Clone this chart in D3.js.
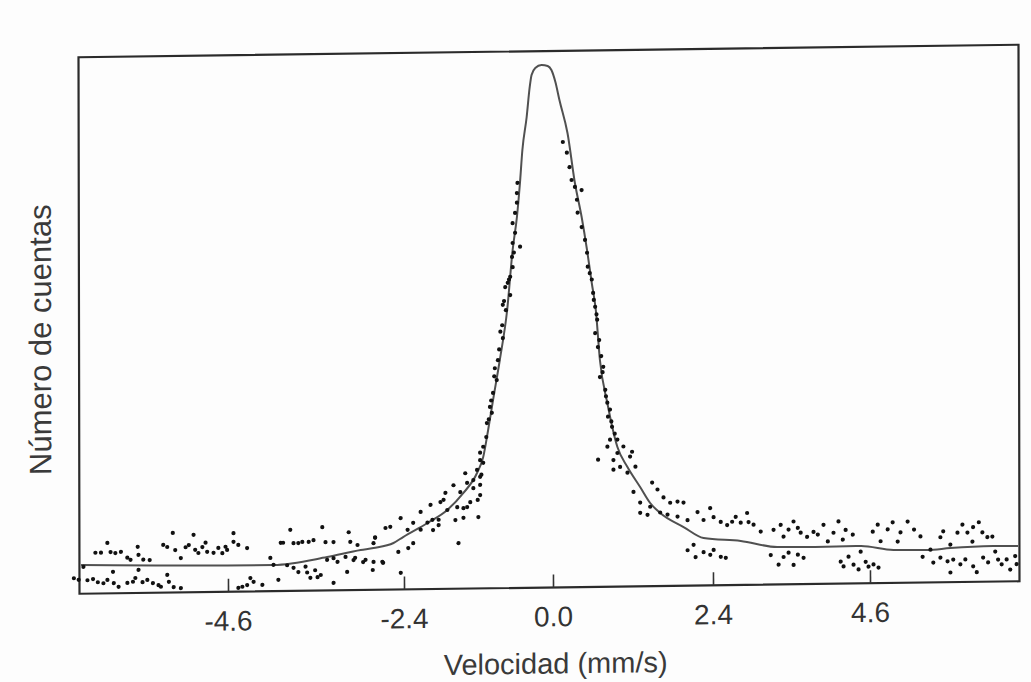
<!DOCTYPE html>
<html>
<head>
<meta charset="utf-8">
<script src="https://cdn.jsdelivr.net/npm/d3@7"></script>
<style>
  body { margin: 0; background: #fdfdfd; }
  svg { display: block; }
  .frame { fill: none; stroke: #2b2b2b; stroke-width: 2.2; }
  .fit { fill: none; stroke: #505050; stroke-width: 2; }
  .dot { fill: #111; }
  .axis text { font-family: "Liberation Sans", Arial, sans-serif; font-size: 28px; fill: #333; }
  .axis line { stroke: #333; stroke-width: 1.6; }
  .label { font-family: "Liberation Sans", Arial, sans-serif; fill: #3a3a3a; }
</style>
</head>
<body>
<svg width="1031" height="682"></svg>
<script>
// tick labels of the velocity axis (mm/s)
var xTicks = [-4.6, -2.4, 0.0, 2.4, 4.6];
var xMin = -6.46, xMax = 6.70;

// fitted curve (velocity, relative counts)
var fitVel = [-6.44, -4.03, -3.36, -2.94, -2.78, -2.53, -2.41, -2.02, -1.70, -1.44, -1.22, -1.12,
  -1.04, -0.96, -0.85, -0.73, -0.64, -0.57, -0.52, -0.48, -0.41, -0.36, -0.33, -0.27, -0.17, -0.07,
  -0.01, 0.05, 0.11, 0.23, 0.34, 0.44, 0.52, 0.59, 0.65, 0.71, 0.82, 0.97, 1.12, 1.31, 1.46, 1.61,
  1.96, 2.26, 2.79, 3.30, 3.77, 4.47, 4.93, 5.41, 5.73, 6.33, 6.68];
var fitCounts = [5.36, 4.88, 6.23, 7.46, 7.80, 8.68, 9.77, 12.32, 14.70, 17.83, 21.52, 24.49,
  29.51, 35.09, 42.53, 51.83, 63.0, 69.14, 75.47, 81.61, 87.75, 93.34, 95.57, 96.87, 97.41, 97.21,
  96.45, 94.21, 90.84, 84.67, 75.33, 68.98, 62.81, 56.65, 51.6, 42.28, 34.25, 26.02, 22.27, 18.51, 15.50, 13.61,
  10.94, 8.84, 8.19, 6.98, 6.90, 6.96, 6.14, 6.05, 6.37, 6.64, 6.57];

// measured points [velocity, relative counts]
var leftTail = [
  [-6.26,7.6],[-6.19,7.6],[-6.11,9.4],[-6.07,7.7],[-6.01,7.5],[-5.94,7.7],[-5.86,6.6],[-5.82,6.2],
  [-5.73,8.6],[-5.72,7.1],[-5.66,6.2],[-5.58,6.1],[-5.41,8.9],[-5.36,8.5],[-5.29,11.1],[-5.26,7.9],
  [-5.19,6.4],[-5.13,8.4],[-5.09,8.8],[-5.03,10.7],[-5.01,7.9],[-4.97,7.3],[-4.92,8.4],[-4.88,9.2],
  [-4.86,7.5],[-4.78,7.3],[-4.72,8.2],[-4.67,7.2],[-4.63,8.4],[-4.61,7.8],[-4.53,10.9],[-4.53,9.3],
  [-4.47,8.7],[-4.36,8.1],
  [-6.53,2.9],[-6.47,2.6],[-6.41,5.0],[-6.36,2.5],[-6.29,2.7],[-6.23,2.1],[-6.16,1.9],[-6.11,2.5],
  [-6.04,4.0],[-6.03,1.9],[-5.97,1.2],[-5.86,1.9],[-5.79,2.1],[-5.76,2.8],[-5.72,4.3],[-5.67,2.0],
  [-5.61,2.4],[-5.54,1.8],[-5.47,1.4],[-5.44,1.1],[-5.36,3.3],[-5.34,2.0],[-5.28,1.0],[-5.19,0.8],
  [-4.47,0.7],[-4.42,0.9],[-4.36,1.2],[-4.32,2.5],[-4.28,1.8],[-4.17,1.2],[-4.07,6.2],[-3.97,2.1]
];
var midTail = [
  [-3.94,9.0],[-3.91,9.0],[-3.82,11.4],[-3.78,8.9],[-3.72,8.9],[-3.67,9.1],[-3.59,9.1],[-3.53,9.4],
  [-3.42,11.8],[-3.38,9.0],[-3.28,9.0],[-3.09,10.8],[-3.07,9.0],[-2.98,8.4],[-2.76,9.7],[-2.78,8.7],
  [-2.63,11.5],
  [-4.03,4.9],[-3.86,4.8],[-3.78,4.3],[-3.72,3.5],[-3.63,4.5],[-3.61,3.4],[-3.57,2.4],[-3.51,3.8],
  [-3.48,2.5],[-3.44,2.9],[-3.36,5.7],[-3.28,6.0],[-3.23,5.3],[-3.28,1.4],[-3.13,6.2],[-3.11,3.4],
  [-3.03,5.6],[-3.01,6.0],[-2.91,5.2],[-2.79,3.7],[-2.78,5.2],[-2.67,5.2]
];
var riseLeft = [
  [-2.88,5.6],[-2.76,9.8],[-2.66,5.0],[-2.57,11.7],[-2.47,7.0],[-2.44,13.3],[-2.44,3.1],[-2.33,7.7],
  [-2.25,12.4],[-2.34,11.1],[-2.25,8.6],[-2.13,14.4],[-2.13,11.1],[-2.02,12.4],[-1.97,15.7],[-1.94,12.9],
  [-1.93,11.0],[-1.84,12.9],[-1.84,11.9],[-1.81,16.2],[-1.76,16.6],[-1.73,17.9],[-1.70,14.7],[-1.60,19.3],
  [-1.57,12.8],[-1.54,15.2],[-1.52,8.5],[-1.49,18.0],[-1.44,15.0],[-1.44,13.2],[-1.41,21.5],[-1.38,19.7],
  [-1.38,15.2],[-1.33,16.1],[-1.28,18.7],[-1.21,16.5],[-1.20,13.3],[-1.17,17.4],[-1.17,19.3],[-1.17,20.8],
  [-1.15,21.2],[-1.12,23.4],[-1.17,25.3],[-1.12,26.4],[-1.07,28.2],
  [-1.28,20.2],[-1.22,22.1],[-1.17,23.9],[-1.06,30.8],[-0.98,32.7],[-1.01,33.8],[-0.96,36.4],[-0.90,38.8],
  [-0.93,41.0],[-0.88,42.5],[-0.80,46.6],[-0.81,49.0],[-0.75,51.8],[-0.80,52.8],[-0.68,54.6],[-0.76,56.1],
  [-0.72,56.9],[-0.68,58.0],[-0.64,59.8],[-0.65,61.7],[-0.52,63.6],[-0.64,64.3],[-0.60,66.2],[-0.64,68.0],
  [-0.60,69.9],[-0.57,71.8],[-0.57,73.6],[-0.56,75.5],
  [-0.62,62.5],[-0.70,57.5],[-0.78,53.5],[-0.84,47.8],[-0.86,44.5],[-0.94,39.5],[-0.99,35.0],[-1.03,31.5]
];
var fallRight = [
  [0.16,83.0],[0.22,81.0],[0.26,78.3],[0.29,75.9],[0.34,74.6],[0.37,72.2],[0.44,74.0],[0.38,69.8],
  [0.44,67.1],[0.49,64.7],[0.52,62.3],[0.53,59.7],[0.59,57.3],[0.61,54.8],[0.64,52.2],[0.67,49.8],
  [0.64,47.3],[0.68,44.7],[0.76,41.0],[0.71,39.1],[0.79,36.7],[0.82,34.3],[0.83,31.7],[0.89,29.8],
  [0.82,26.1],[0.86,27.4],[0.97,27.4],[0.97,24.9],[1.06,26.1],[1.16,24.2],[1.19,25.1],[1.24,22.3],
  [0.91,23.6],[0.91,21.8],[1.01,22.3],[1.12,21.2],[0.68,23.7],[1.49,19.3],[1.21,17.6],[1.57,18.0],
  [1.31,15.6],[1.46,14.8],[1.66,16.5],[1.76,15.5],[1.87,15.7],[1.96,15.5],[1.31,13.7],[1.42,13.3],
  [1.61,13.7],[1.72,13.3],[1.87,12.9],
  [0.56,58.5],[0.62,53.5],[0.66,50.8],[0.70,46.0],[0.73,43.0],[0.75,40.0],[0.80,35.5],[0.86,33.0],
  [0.88,30.8],[0.93,28.5]
];
var rightTail = [
  [2.02,12.2],[2.17,13.7],[2.26,12.2],[2.36,14.4],[2.41,12.7],[2.51,11.8],[2.60,11.2],[2.67,11.8],
  [2.72,12.7],[2.79,11.6],[2.88,13.4],[2.90,11.7],[2.97,11.2],[3.07,9.9],[3.25,10.2],[3.35,11.1],
  [3.39,8.9],[3.46,10.2],[3.53,11.7],[3.59,10.5],[3.63,9.6],[3.72,8.8],[3.81,9.7],[3.87,9.2],
  [3.95,11.0],[4.01,7.9],[4.09,9.5],[4.16,11.6],[4.22,8.2],[4.26,10.0],[4.36,9.1],[4.64,9.6],
  [4.71,10.9],[4.75,7.8],[4.85,10.0],[4.92,11.3],[4.99,7.7],[5.03,9.4],[5.13,11.4],[5.22,9.9],
  [5.31,8.6],[5.59,8.4],[5.63,9.5],[5.73,7.0],[5.83,9.2],[5.90,10.7],[5.97,9.2],[6.04,7.5],
  [6.05,10.2],[6.13,11.1],[6.18,9.2],[6.25,8.3],[6.32,8.4],
  [2.02,6.6],[2.11,7.6],[2.14,5.3],[2.26,6.2],[2.36,5.7],[2.41,6.6],[2.51,5.3],[2.58,5.1],
  [3.21,5.5],[3.32,3.7],[3.39,5.1],[3.46,5.9],[3.53,3.6],[3.59,5.5],[3.67,4.9],[4.19,4.1],
  [4.23,3.2],[4.30,5.0],[4.37,3.5],[4.44,2.6],[4.47,5.9],[4.54,4.0],[4.58,3.1],[4.65,3.5],
  [4.72,2.9],[5.34,4.8],[5.45,6.1],[5.49,3.7],[5.59,4.6],[5.69,3.9],[5.73,1.8],[5.77,4.2],
  [5.87,3.3],[5.94,4.2],[6.05,2.9],[6.10,1.8],[6.19,4.5],[6.26,3.6],[6.36,5.6],[6.40,4.1],
  [6.45,3.2],[6.52,4.1],[6.57,2.2],[6.64,4.7],[6.66,3.2]
];

var width = 940, height = 536.5;

var svg = d3.select("svg");
// the scanned figure is slightly tilted
var g = svg.append("g")
  .attr("transform", "matrix(1,-0.0133,0.00186,1,78.5,57.25)");

// tick spacing of the original is not uniform, so the scale is piecewise
var xScale = d3.scaleLinear()
  .domain([xMin].concat(xTicks, [xMax]))
  .range([0, 148.5, 324.5, 473.5, 633.5, 790.5, width]);

var yScale = d3.scaleLinear()
  .domain([0, 100])
  .range([height, 0]);

// frame
g.append("rect")
  .attr("class", "frame")
  .attr("width", width)
  .attr("height", height);

// x-axis, ticks pointing inward
g.append("g")
  .attr("class", "axis")
  .attr("transform", `translate(0,${height})`)
  .call(d3.axisBottom(xScale)
    .tickValues(xTicks)
    .tickFormat(d => d.toFixed(1))
    .tickSizeInner(-13)
    .tickSizeOuter(0)
    .tickPadding(19))
  .call(a => a.select(".domain").remove());

// fitted curve
var line = d3.line()
  .x(d => xScale(d[0]))
  .y(d => yScale(d[1]))
  .curve(d3.curveMonotoneX);

g.append("path")
  .datum(d3.zip(fitVel, fitCounts))
  .attr("class", "fit")
  .attr("d", line);

// points
var points = [].concat(leftTail, midTail, riseLeft, fallRight, rightTail);
g.selectAll(".dot")
  .data(points)
  .enter()
  .append("circle")
  .attr("class", "dot")
  .attr("cx", d => xScale(d[0]))
  .attr("cy", d => yScale(d[1]))
  .attr("r", 2.1);

// axis titles
g.append("text")
  .attr("class", "label")
  .attr("text-anchor", "middle")
  .attr("x", width / 2 + 6)
  .attr("y", height + 86)
  .style("font-size", "29px")
  .text("Velocidad (mm/s)");

g.append("text")
  .attr("class", "label")
  .attr("text-anchor", "middle")
  .attr("transform", "translate(-28,282) rotate(-90)")
  .style("font-size", "31px")
  .text("Número de cuentas");
</script>
</body>
</html>
